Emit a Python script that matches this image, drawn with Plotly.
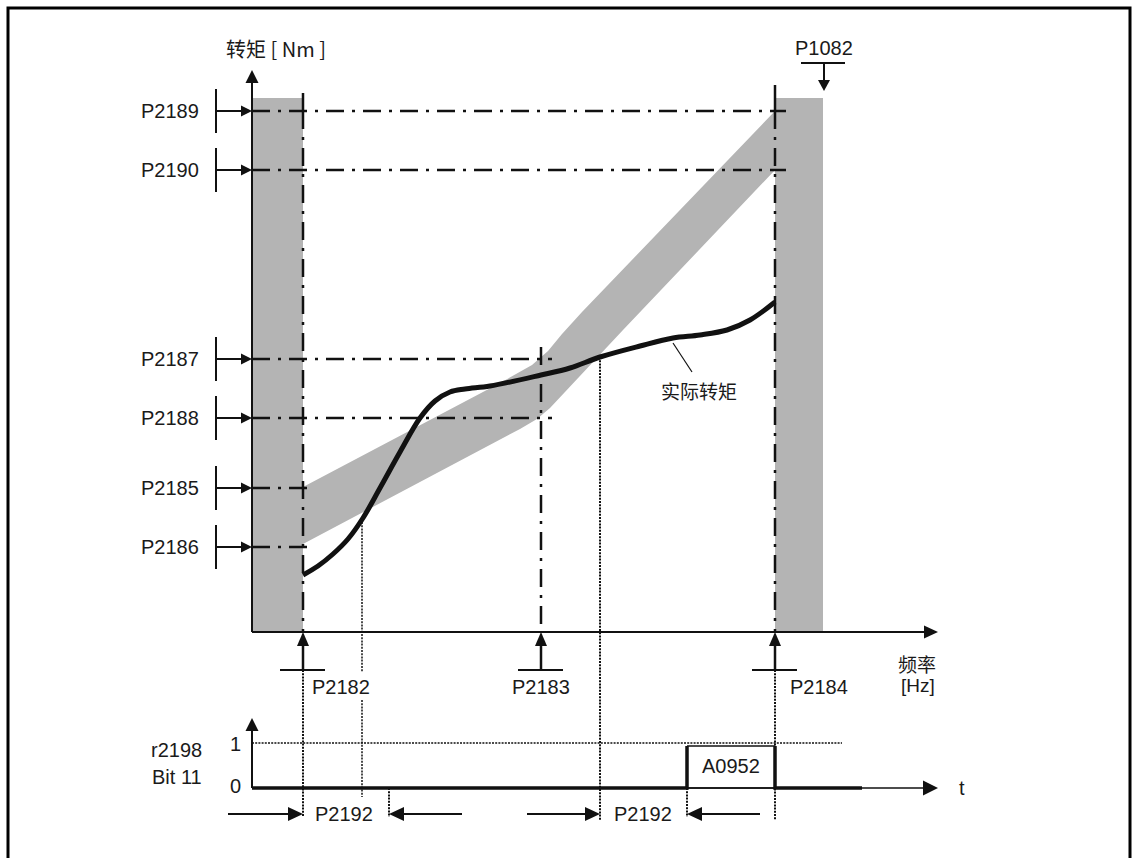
import plotly.graph_objects as go

# torque thresholds on the vertical axis (torque units, 0 = frequency axis)
torque_params = ["P2189", "P2190", "P2187", "P2188", "P2185", "P2186"]
torque_levels = [521, 462, 273, 214, 144, 85]
# horizontal reach of each threshold line (frequency it belongs to)
torque_reach = [523, 523, 289, 289, 51, 51]

# frequency thresholds on the horizontal axis
freq_params = ["P2182", "P2183", "P2184"]
freq_levels = [51, 289, 523]
f_max = 571          # P1082
band_top = 534       # top of the grey limit bars

# actual torque (实际转矩)
curve_f = [51, 66, 81, 96, 111, 128, 148, 168, 183, 198, 213, 238, 289, 318, 348, 388, 421, 448, 475, 498, 523]
curve_t = [57, 66, 78, 93, 114, 144, 180, 214, 231, 240, 243, 246, 257, 264, 275, 286, 294, 297, 302, 312, 330]

# tolerance envelope (upper edge and lower edge, left -> right)
env_up_f = [51, 168, 248, 280, 296, 310, 330, 523]
env_up_t = [145, 207, 249, 267, 281, 298, 320, 521]
env_lo_f = [51, 268, 285, 298, 315, 371, 523]
env_lo_t = [88, 203, 213, 224, 242, 302, 462]

# r2198 bit 11 signal
p2192 = 86
cross_f = [110, 348]                 # curve leaves the envelope
bit_f = [0, 435, 435, 523, 523, 610]
bit_v = [0, 0, 1, 1, 0, 0]

BLACK = "#111111"
GREY = "#b4b4b4"
FONT = "Liberation Sans"
CJK = "Noto Sans CJK SC"
DASHDOT = "18px,8px,3px,8px"
DOTS = "2px,1.2px"
BIT0, BITH = -156, 42

fig = go.Figure()
shapes = []
notes = []


def head(x, y, d, L, W):
    # filled triangle with tip at (x, y); one data unit is one pixel
    if d == "up":
        p = [(x, y), (x - W / 2, y - L), (x + W / 2, y - L)]
    elif d == "down":
        p = [(x, y), (x - W / 2, y + L), (x + W / 2, y + L)]
    elif d == "right":
        p = [(x, y), (x - L, y - W / 2), (x - L, y + W / 2)]
    else:
        p = [(x, y), (x + L, y - W / 2), (x + L, y + W / 2)]
    path = "M %g,%g L %g,%g L %g,%g Z" % (p[0] + p[1] + p[2])
    shapes.append(dict(type="path", path=path, fillcolor=BLACK, line_width=0))


def seg(xs, ys, w=2, dash="solid", color=BLACK, shape="linear"):
    fig.add_trace(go.Scatter(x=xs, y=ys, mode="lines", hoverinfo="skip",
                             line=dict(color=color, width=w, dash=dash, shape=shape)))


def txt(x, y, s, size=20, anchor="center", font=FONT):
    notes.append(dict(x=x, y=y, text=s, showarrow=False, xanchor=anchor, yanchor="middle",
                      font=dict(family=font, size=size, color="#1a1a1a")))


# frame
shapes.append(dict(type="rect", x0=-244, x1=878, y0=-320, y1=624,
                   line=dict(color="black", width=3), layer="below"))

# grey limit bars
shapes.append(dict(type="rect", x0=0, x1=freq_levels[0], y0=0, y1=band_top,
                   fillcolor=GREY, line_width=0, layer="below"))
shapes.append(dict(type="rect", x0=freq_levels[2], x1=f_max, y0=0, y1=band_top,
                   fillcolor=GREY, line_width=0, layer="below"))

# tolerance envelope
fig.add_trace(go.Scatter(x=env_up_f + env_lo_f[::-1], y=env_up_t + env_lo_t[::-1],
                         mode="lines", fill="toself", fillcolor=GREY, hoverinfo="skip",
                         line=dict(width=0, color=GREY)))

# axes
seg([0, 0], [0, 552], w=2)
head(0, 562, "up", 13, 13)
seg([0, 675], [0, 0], w=2)
head(686, 0, "right", 14, 13)
txt(24, 584, "转矩 [ Nm ]", size=20, font=CJK)
txt(665, -31, "频率", size=19, font=CJK)
txt(666, -53, "[Hz]", size=19)

# torque thresholds
for name, lv, reach in zip(torque_params, torque_levels, torque_reach):
    seg([0, reach + 11], [lv, lv], w=2.5, dash=DASHDOT)
    seg([-36, -36], [lv - 22, lv + 22], w=2)
    seg([-36, -8], [lv, lv], w=2)
    head(0, lv, "right", 11, 11)
    txt(-51, lv, name, anchor="right")

# frequency thresholds
tops = [539, 285, 547]
for name, fl, top in zip(freq_params, freq_levels, tops):
    if top > torque_levels[0]:
        seg([fl, fl], [top, torque_levels[0]], w=2.5)
        seg([fl, fl], [torque_levels[0], 0], w=2.5, dash=DASHDOT)
    else:
        seg([fl, fl], [top, 0], w=2.5, dash=DASHDOT)
    seg([fl, fl], [-38, -12], w=2.5)
    head(fl, 0, "up", 14, 12)
    seg([fl - 23, fl + 22], [-38, -38], w=2)
seg([freq_levels[0]] * 2, [-38, -185], w=2, dash=DOTS)
seg([freq_levels[2]] * 2, [-38, -188], w=2, dash=DOTS)
txt(58, -55, freq_params[0], anchor="left")
txt(289, -55, freq_params[1])
txt(536, -55, freq_params[2], anchor="left")

# P1082
seg([f_max - 22, f_max + 22], [569, 569], w=2)
seg([f_max + 1, f_max + 1], [569, 551], w=2)
head(f_max + 1, 541, "down", 11, 12)
txt(572, 584, "P1082")

# actual torque curve
seg(curve_f, curve_t, w=5, shape="spline")
seg([421, 440], [289, 260], w=1.2)
txt(447, 242, "实际转矩", size=19, font=CJK)

# crossings carried down to the bit diagram
seg([cross_f[0]] * 2, [110, -40], w=1.5, dash=DOTS)
seg([cross_f[0]] * 2, [-68, -165], w=1.5, dash=DOTS)
seg([cross_f[1]] * 2, [275, -188], w=2, dash=DOTS)
seg([freq_levels[0] + p2192] * 2, [BIT0, -185], w=2, dash=DOTS)
seg([bit_f[1]] * 2, [BIT0, -185], w=2, dash=DOTS)

# r2198 bit 11 diagram
seg([0, 0], [BIT0, -98], w=2)
head(0, -86, "up", 13, 13)
seg([0, 675], [BIT0, BIT0], w=1.5)
head(686, BIT0, "right", 15, 15)
seg([0, 590], [BIT0 + BITH + 3, BIT0 + BITH + 3], w=1.5, dash=DOTS)
bit_t = [BIT0 + v * BITH for v in bit_v]
seg(bit_f[:3], bit_t[:3], w=3.5)
seg(bit_f[2:4], bit_t[2:4], w=1.5)
seg(bit_f[3:], bit_t[3:], w=3.5)
seg([bit_f[1], bit_f[3]], [BIT0, BIT0], w=1.5)
txt((bit_f[1] + bit_f[3]) / 2, BIT0 + BITH / 2 + 1, "A0952")
txt(-17, BIT0 + BITH + 2, "1")
txt(-17, BIT0 + 2, "0")
txt(-48, -118, "r2198", anchor="right")
txt(-48, -145, "Bit 11", anchor="right")
txt(710, BIT0, "t", size=20)

# P2192 delay arrows
ya = -182
seg([-24, freq_levels[0] - 10], [ya, ya], w=2)
head(freq_levels[0], ya, "right", 15, 14)
seg([210, freq_levels[0] + p2192 + 10], [ya, ya], w=2)
head(freq_levels[0] + p2192, ya, "left", 15, 14)
seg([275, cross_f[1] - 10], [ya, ya], w=2)
head(cross_f[1], ya, "right", 15, 14)
seg([508, bit_f[1] + 10], [ya, ya], w=2)
head(bit_f[1], ya, "left", 15, 14)
txt(61, ya, "P2192", anchor="left")
txt(360, ya, "P2192", anchor="left")

fig.update_layout(
    width=1132, height=858, autosize=False,
    margin=dict(l=0, r=0, t=0, b=0),
    paper_bgcolor="white", plot_bgcolor="white",
    showlegend=False, shapes=shapes, annotations=notes,
    xaxis=dict(range=[-252, 880], visible=False, fixedrange=True),
    yaxis=dict(range=[-226, 632], visible=False, fixedrange=True),
    font=dict(family=FONT),
)

fig.write_html("out.html", config={"displayModeBar": False},
               post_script="document.body.style.margin='0';")
